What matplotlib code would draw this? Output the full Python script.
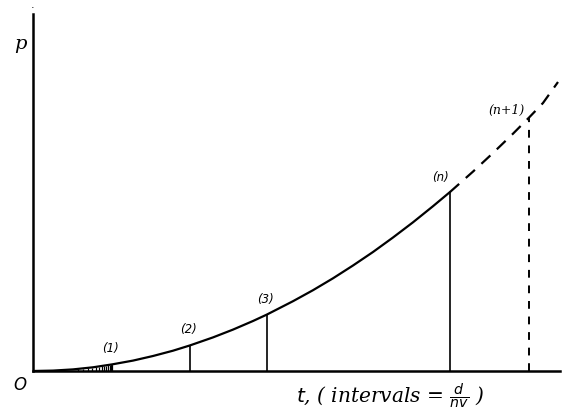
import matplotlib
matplotlib.use("Agg")
import matplotlib.pyplot as plt

# Curve p(t) (t, p in drawing units from origin O)
curve_t_solid = [0, 20, 40, 60, 79, 100, 120, 140, 157, 180, 200, 220, 234, 260, 280, 300, 320, 340, 360, 380, 400, 417]
curve_p_solid = [0, 0.4, 1.6, 3.7, 6.6, 10.4, 15, 20.3, 25.6, 33.6, 41.4, 50, 56.5, 69.8, 80.8, 92.7, 105.5, 119, 133.5, 148.7, 164.8, 179]
curve_t_dash = [417, 440, 460, 480, 496, 510, 525]
curve_p_dash = [179, 199.4, 218, 237.3, 253.4, 268, 289]

# Ordinates
ord_labels = ["(1)", "(2)", "(3)", "(n)"]
ord_t = [79, 157, 234, 417]
ord_p = [6.6, 25.6, 56.5, 179]
next_label = "(n+1)"
next_t = 496
next_p = 253.4

# Hatching under the first interval
hatch_t = [45, 50, 55, 59, 63, 66, 69, 71, 73, 75, 76.5, 78, 79]
hatch_p = [2.0, 2.5, 3.1, 3.5, 4.0, 4.4, 4.8, 5.1, 5.4, 5.7, 5.9, 6.2, 6.4]

W, H = 563, 417
fig = plt.figure(figsize=(W / 100, H / 100), dpi=100)
ax = fig.add_axes([33 / W, (H - 371) / H, (560 - 33) / W, (371 - 14) / H])
ax.set_xlim(0, 527)
ax.set_ylim(0, 357)
for s in ["top", "right"]:
    ax.spines[s].set_visible(False)
for s in ["left", "bottom"]:
    ax.spines[s].set_linewidth(1.8)
    ax.spines[s].set_color("black")
ax.set_xticks([])
ax.set_yticks([])

ax.plot(curve_t_solid, curve_p_solid, color="black", lw=1.6, solid_capstyle="round")
ax.plot(curve_t_dash, curve_p_dash, color="black", lw=1.6, linestyle=(0, (5.5, 4)))
ax.vlines(ord_t, 0, ord_p, color="black", lw=1.2)
ax.vlines([next_t], 0, [next_p], color="black", lw=1.4, linestyles=[(0, (4, 4))])
ax.vlines(hatch_t, 0, hatch_p, color="black", lw=0.9)

hand = dict(family="DejaVu Sans", style="italic", color="black")
offs = [(-2, 9), (-2, 9), (-2, 9), (-10, 8)]
for lab, t, p, (dx, dy) in zip(ord_labels, ord_t, ord_p, offs):
    ax.annotate(lab, (t, p), xytext=(dx * 0.72, dy * 0.72), textcoords="offset points",
                ha="center", va="bottom", fontsize=8.5, **hand)
ax.annotate(next_label, (next_t, next_p), xytext=(-16, 5), textcoords="offset points",
            ha="center", va="center", fontsize=9, family="DejaVu Serif", style="italic",
            color="black")

fig.text(20 / W, 1 - 44 / H, "p", fontsize=14, family="DejaVu Serif", style="italic",
         ha="center", va="center")
fig.text(20 / W, 1 - 385 / H, "O", fontsize=12, family="DejaVu Sans", style="italic",
         ha="center", va="center")
fig.text(390 / W, 1 - 396 / H, r"$t$, ( intervals = $\frac{d}{nv}$ )", fontsize=14.5,
         family="DejaVu Serif", style="italic", ha="center", va="center")
fig.text(33 / W, 1 - 5 / H, ".", fontsize=8, ha="center", va="center")

fig.savefig("out.png", dpi=100, facecolor="white")
